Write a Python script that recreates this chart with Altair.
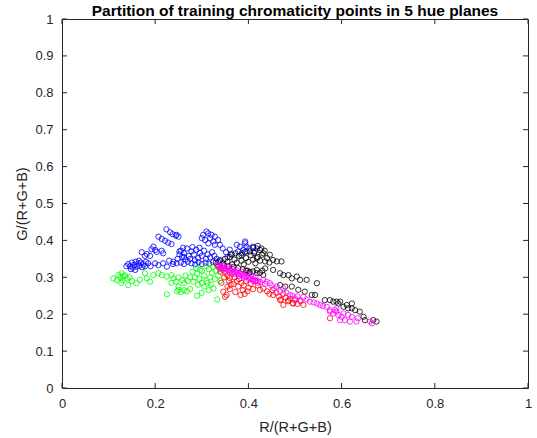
import altair as alt
import pandas as pd

# ---- data ----
blue_x = [0.224,0.232,0.237,0.244,0.250,0.246,
          0.207,0.214,0.221,0.228,0.235,
          0.196,0.200,0.192,0.203,0.214,0.217,
          0.171,0.182,0.178,0.189,
          0.142,0.146,0.150,0.152,0.155,0.158,0.160,0.163,0.166,0.169,0.172,0.175,0.178,0.148,0.157,0.138,0.165,0.180,
          0.200,0.207,0.217,0.225,0.239,0.246,0.190,0.185,
          0.310,0.314,0.303,0.321,0.328,0.318,0.307,0.300,0.325,0.335,0.339,0.328,0.314,
          0.255,0.262,0.268,0.272,0.278,0.283,0.288,0.292,0.296,0.300,0.305,0.309,0.313,0.318,0.322,0.327,0.332,
          0.258,0.265,0.275,0.285,0.252,0.248,0.260,0.280,0.295,
          0.255,0.262,0.270,0.278,0.286,0.293,0.300,0.308,0.316,0.324,0.230,0.238,0.252,0.262,
          0.375,0.382,0.393,0.396,0.389,0.378,0.396,0.386,0.393,0.410,0.418,0.414,0.402,
          0.352,0.360,0.365,0.345,0.355,0.335,0.340]
blue_y = [0.430,0.422,0.417,0.413,0.410,0.415,
          0.410,0.404,0.399,0.394,0.390,
          0.383,0.374,0.376,0.369,0.372,0.365,
          0.368,0.363,0.358,0.358,
          0.336,0.330,0.340,0.326,0.334,0.342,0.329,0.337,0.331,0.340,0.327,0.335,0.330,0.322,0.320,0.330,0.345,0.342,
          0.338,0.333,0.338,0.329,0.342,0.338,0.330,0.338,
          0.424,0.419,0.415,0.415,0.410,0.406,0.401,0.406,0.397,0.401,0.388,0.388,0.392,
          0.372,0.365,0.378,0.358,0.370,0.362,0.375,0.352,0.366,0.358,0.372,0.350,0.362,0.354,0.368,0.358,0.350,
          0.355,0.348,0.350,0.346,0.362,0.350,0.380,0.382,0.380,
          0.340,0.336,0.342,0.338,0.335,0.341,0.336,0.340,0.337,0.341,0.345,0.336,0.370,0.355,
          0.388,0.383,0.392,0.383,0.374,0.370,0.370,0.365,0.397,0.383,0.378,0.370,0.378,
          0.368,0.375,0.362,0.378,0.355,0.342,0.347]

green_x = [0.110,0.121,0.128,0.132,0.139,0.142,0.160,0.167,0.178,0.182,0.189,0.196,0.207,0.214,0.225,0.235,0.239,0.250,
           0.125,0.130,0.135,0.118,0.145,0.150,0.127,
           0.225,0.250,0.247,0.255,0.262,0.268,0.275,0.333,0.290,0.300,
           0.285,0.290,0.295,0.300,0.305,0.310,0.315,0.318,0.322,0.325,0.328,0.330,0.333,0.312,0.300,0.292,
           0.305,0.320,0.335,0.338,0.310,0.296,0.282,0.275,0.270,0.265,0.280,0.288,0.340,0.325,0.315,
           0.250,0.258,0.262,0.245,0.235]
green_y = [0.297,0.306,0.311,0.302,0.297,0.279,0.284,0.293,0.311,0.297,0.288,0.306,0.311,0.306,0.302,0.306,0.297,0.275,
           0.300,0.292,0.305,0.292,0.300,0.290,0.285,
           0.254,0.266,0.262,0.260,0.265,0.262,0.268,0.240,0.250,0.258,
           0.300,0.310,0.295,0.318,0.305,0.290,0.322,0.300,0.312,0.328,0.295,0.318,0.335,0.285,0.285,0.280,
           0.275,0.280,0.305,0.322,0.330,0.320,0.288,0.300,0.290,0.305,0.315,0.325,0.290,0.270,0.265,
           0.300,0.292,0.285,0.288,0.285]

red_x = [0.335,0.340,0.345,0.340,0.350,0.355,0.348,0.360,0.365,0.358,0.370,0.375,0.368,0.380,0.385,0.378,0.390,0.395,
         0.400,0.405,0.410,0.398,0.388,0.346,0.353,0.350,0.360,0.372,0.383,0.392,0.362,0.355,0.342,0.415,0.420,
         0.425,0.432,0.440,0.445,0.452,0.460,0.465,0.470,0.475,0.480,0.485,0.490,0.495,0.500,0.505,0.512,0.518,0.575,
         0.453,0.468,0.475,0.486,0.496]
red_y = [0.330,0.325,0.320,0.315,0.312,0.305,0.300,0.298,0.310,0.290,0.300,0.290,0.282,0.295,0.285,0.275,0.278,0.290,
         0.272,0.282,0.268,0.262,0.265,0.261,0.252,0.247,0.268,0.260,0.252,0.255,0.280,0.275,0.285,0.290,0.278,
         0.266,0.270,0.262,0.255,0.265,0.258,0.248,0.240,0.255,0.245,0.235,0.242,0.230,0.238,0.228,0.235,0.225,0.189,
         0.252,0.238,0.225,0.238,0.229]

black_x = [0.330,0.338,0.345,0.350,0.355,0.360,0.365,0.370,0.375,0.380,0.385,0.390,0.395,0.400,0.405,0.410,0.415,0.420,0.425,
           0.403,0.425,0.432,0.429,0.446,0.453,0.461,0.471,0.436,0.418,0.368,0.378,0.388,0.398,0.358,0.348,0.362,0.372,
           0.385,0.392,0.412,0.440,0.445,0.410,0.420,0.428,0.435,
           0.403,0.418,0.432,0.436,0.453,0.468,0.475,0.486,0.493,0.504,0.511,0.525,0.547,0.468,0.479,0.493,0.507,0.521,
           0.536,0.543,0.564,0.575,0.582,0.589,0.593,0.597,0.604,0.611,0.614,0.622,0.622,0.629,0.639,0.647,0.650,0.668,0.675,
           0.395,0.402,0.410,0.418,0.425,0.430]
black_y = [0.340,0.345,0.338,0.350,0.342,0.355,0.335,0.348,0.340,0.358,0.345,0.335,0.352,0.342,0.360,0.348,0.338,0.355,0.345,
           0.370,0.374,0.365,0.361,0.361,0.347,0.343,0.343,0.343,0.352,0.328,0.325,0.322,0.318,0.330,0.333,0.362,0.365,
           0.360,0.368,0.366,0.352,0.340,0.380,0.385,0.378,0.372,
           0.315,0.311,0.306,0.324,0.320,0.311,0.306,0.306,0.297,0.302,0.293,0.293,0.284,0.279,0.275,0.275,0.266,0.261,
           0.252,0.252,0.238,0.238,0.234,0.234,0.229,0.234,0.220,0.225,0.216,0.216,0.229,0.211,0.207,0.193,0.184,0.184,0.180,
           0.318,0.312,0.316,0.320,0.312,0.318]

magenta_x = [0.332,0.336,0.340,0.344,0.348,0.352,0.356,0.360,0.364,0.368,0.372,0.376,0.380,0.384,0.388,0.392,0.396,0.400,
             0.404,0.408,0.412,0.416,0.420,0.425,
             0.340,0.350,0.360,0.370,0.380,0.390,0.400,0.410,0.420,
             0.345,0.355,0.365,0.375,0.385,0.395,0.405,0.415,
             0.432,0.439,0.446,0.461,0.475,0.489,0.500,0.511,0.518,0.532,0.547,0.554,0.568,0.575,0.589,0.604,
             0.436,0.450,0.455,0.468,0.482,0.495,0.505,0.525,0.540,0.560,
             0.575,0.582,0.586,0.589,0.593,0.597,0.600,0.607,0.614,0.618,0.622,0.632,0.635,0.661,0.665]
magenta_y = [0.334,0.331,0.330,0.327,0.326,0.323,0.322,0.319,0.318,0.315,0.314,0.311,0.310,0.307,0.306,0.303,0.302,0.299,
             0.298,0.295,0.294,0.291,0.290,0.287,
             0.323,0.318,0.313,0.309,0.304,0.299,0.294,0.290,0.285,
             0.332,0.328,0.324,0.319,0.315,0.311,0.306,0.302,
             0.293,0.288,0.284,0.275,0.270,0.252,0.243,0.238,0.247,0.234,0.229,0.225,0.220,0.211,0.207,0.202,
             0.282,0.278,0.270,0.262,0.258,0.250,0.248,0.240,0.232,0.222,
             0.207,0.202,0.211,0.216,0.198,0.184,0.193,0.184,0.198,0.180,0.193,0.180,0.189,0.180,0.175]

x_ticks = [0, 0.2, 0.4, 0.6, 0.8, 1]
y_ticks = [0, 0.1, 0.2, 0.3, 0.4, 0.5, 0.6, 0.7, 0.8, 0.9, 1]

groups = [("blue", blue_x, blue_y), ("green", green_x, green_y), ("red", red_x, red_y),
          ("black", black_x, black_y), ("magenta", magenta_x, magenta_y)]
colors = {"blue": "#0000FF", "green": "#00FF00", "red": "#FF0000", "black": "#000000", "magenta": "#FF00FF"}

rows = []
order = 0
for name, xs, ys in groups:
    for x, y in zip(xs, ys):
        rows.append({"r": x, "g": y, "grp": name, "ord": order})
        order += 1
df = pd.DataFrame(rows)

W, H = 466, 369
FONT = "Liberation Sans"
TXT = "#262626"

xscale = alt.Scale(domain=[0, 1], nice=False, zero=False)
yscale = alt.Scale(domain=[0, 1], nice=False, zero=False)

LBL = "datum.value == 0 || datum.value == 1 ? format(datum.value, 'd') : format(datum.value, '.1f')"
xaxis = alt.Axis(values=x_ticks, ticks=False, domain=False, grid=False, labelFontSize=13,
                 labelColor=TXT, labelPadding=9, labelOverlap=False, labelFlush=False,
                 title="R/(R+G+B)", titleFontSize=14.5,
                 titleColor=TXT, titleFontWeight="normal", titlePadding=10, labelExpr=LBL)
yaxis = alt.Axis(values=y_ticks, ticks=False, domain=False, grid=False, labelFontSize=13,
                 labelColor=TXT, labelPadding=9, labelOverlap=False, labelFlush=False,
                 title="G/(R+G+B)", titleFontSize=14.5,
                 titleColor=TXT, titleFontWeight="normal", titlePadding=5, labelExpr=LBL)

points = alt.Chart(df).mark_point(filled=False, size=28, strokeWidth=0.8, opacity=1).encode(
    x=alt.X("r:Q", scale=xscale, axis=xaxis),
    y=alt.Y("g:Q", scale=yscale, axis=yaxis),
    color=alt.Color("grp:N", scale=alt.Scale(domain=list(colors.keys()), range=list(colors.values())), legend=None),
    order=alt.Order("ord:Q"),
)

xt = pd.DataFrame({"t": x_ticks})
yt = pd.DataFrame({"t": y_ticks})
tick_len = 5
xb = alt.Chart(xt).mark_rule(color=TXT, strokeWidth=1).encode(
    x=alt.X("t:Q", scale=xscale, axis=xaxis), y=alt.value(H), y2=alt.value(H - tick_len))
xtop = alt.Chart(xt).mark_rule(color=TXT, strokeWidth=1).encode(
    x=alt.X("t:Q", scale=xscale, axis=xaxis), y=alt.value(0), y2=alt.value(tick_len))
yl = alt.Chart(yt).mark_rule(color=TXT, strokeWidth=1).encode(
    y=alt.Y("t:Q", scale=yscale, axis=yaxis), x=alt.value(0), x2=alt.value(tick_len))
yr = alt.Chart(yt).mark_rule(color=TXT, strokeWidth=1).encode(
    y=alt.Y("t:Q", scale=yscale, axis=yaxis), x=alt.value(W), x2=alt.value(W - tick_len))

chart = alt.layer(points, xb, xtop, yl, yr).properties(
    width=W, height=H,
    title=alt.TitleParams("Partition of training chromaticity points in 5 hue planes",
                          fontSize=15.5, fontWeight="bold", color="#000000", font=FONT,
                          anchor="middle", frame="group", offset=1, dy=7),
    autosize=alt.AutoSizeParams(type="none"),
    padding={"left": 62, "top": 19, "right": 9, "bottom": 50},
).configure(font=FONT, background="white").configure_view(
    stroke=TXT, strokeWidth=1
).configure_axis(labelFont=FONT, titleFont=FONT)

chart.save("out.html", embed_options={"renderer": "svg", "actions": False})
